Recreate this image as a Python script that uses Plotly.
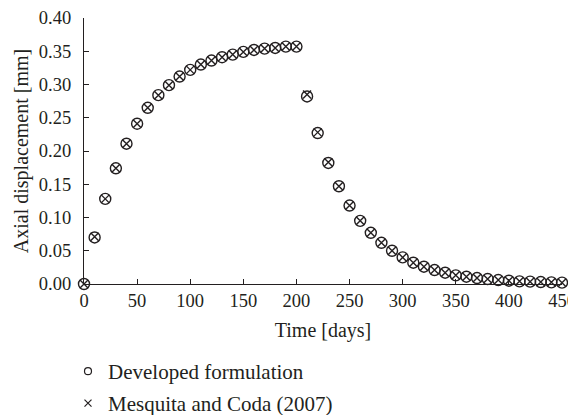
import plotly.graph_objects as go

time_days = [0, 10, 20, 30, 40, 50, 60, 70, 80, 90, 100, 110, 120, 130, 140, 150,
             160, 170, 180, 190, 200, 210, 220, 230, 240, 250, 260, 270, 280, 290,
             300, 310, 320, 330, 340, 350, 360, 370, 380, 390, 400, 410, 420, 430,
             440, 450]

developed = [0.000, 0.070, 0.128, 0.174, 0.211, 0.241, 0.265, 0.284, 0.299, 0.312,
             0.322, 0.330, 0.336, 0.341, 0.345, 0.349, 0.352, 0.354, 0.355, 0.357,
             0.357, 0.282, 0.227, 0.182, 0.147, 0.118, 0.095, 0.077, 0.062, 0.050,
             0.040, 0.032, 0.026, 0.021, 0.017, 0.013, 0.011, 0.009, 0.0075, 0.006,
             0.005, 0.004, 0.0035, 0.003, 0.0025, 0.002]

mesquita = [0.000, 0.071, 0.128, 0.174, 0.211, 0.241, 0.265, 0.284, 0.299, 0.312,
            0.322, 0.330, 0.336, 0.341, 0.345, 0.349, 0.352, 0.354, 0.355, 0.357,
            0.357, 0.285, 0.228, 0.183, 0.147, 0.118, 0.095, 0.077, 0.062, 0.050,
            0.040, 0.032, 0.026, 0.021, 0.017, 0.013, 0.011, 0.009, 0.0075, 0.006,
            0.005, 0.004, 0.0035, 0.003, 0.0025, 0.002]

x_ticks = [0, 50, 100, 150, 200, 250, 300, 350, 400, 450]
y_ticks = [0.00, 0.05, 0.10, 0.15, 0.20, 0.25, 0.30, 0.35, 0.40]

INK = "#231f20"
FONT = "Liberation Serif"

fig = go.Figure()

fig.add_trace(go.Scatter(
    x=time_days, y=developed, mode="markers", name="Developed formulation",
    showlegend=False, cliponaxis=False,
    marker=dict(symbol="circle-open", size=11, color=INK, line=dict(width=1.4, color=INK)),
))
fig.add_trace(go.Scatter(
    x=time_days, y=mesquita, mode="markers", name="Mesquita and Coda (2007)",
    showlegend=False, cliponaxis=False,
    marker=dict(symbol="x-thin-open", size=8, color=INK, line=dict(width=1.4, color=INK)),
))

# legend entries (smaller symbols as in the reference)
fig.add_trace(go.Scatter(
    x=[None], y=[None], mode="markers", name="Developed formulation", legend="legend",
    marker=dict(symbol="circle-open", size=7, color=INK, line=dict(width=1.2, color=INK)),
))
fig.add_trace(go.Scatter(
    x=[None], y=[None], mode="markers", name="Mesquita and Coda (2007)", legend="legend2",
    marker=dict(symbol="x-thin-open", size=7, color=INK, line=dict(width=1.2, color=INK)),
))

axis_common = dict(
    showline=True, linecolor=INK, linewidth=1.2, showgrid=False, zeroline=False,
    ticks="inside", ticklen=5, tickwidth=1, tickcolor=INK,
    tickfont=dict(family=FONT, size=18.5, color=INK),
    mirror=False, automargin=False,
)

fig.update_layout(
    width=576, height=415,
    margin=dict(l=76, r=22, t=10, b=139, autoexpand=False),
    paper_bgcolor="white", plot_bgcolor="white",
    font=dict(family=FONT, size=20, color=INK),
    xaxis=dict(range=[0, 450.001], tickvals=x_ticks, ticktext=[str(v) for v in x_ticks],
               title=dict(text="Time [days]", font=dict(family=FONT, size=20, color=INK), standoff=12),
               **axis_common),
    yaxis=dict(range=[0, 0.40001], tickvals=y_ticks, ticktext=[f"{v:.2f}" for v in y_ticks],
               title=dict(text="Axial displacement [mm]", font=dict(family=FONT, size=20, color=INK), standoff=4),
               ticklabelstandoff=8,
               **axis_common),
    legend=dict(x=-16 / 478, y=1 - 343 / 415, xref="paper", yref="container", xanchor="left", yanchor="top",
                bgcolor="rgba(0,0,0,0)", font=dict(family=FONT, size=21, color=INK)),
    legend2=dict(x=-16 / 478, y=1 - 375 / 415, xref="paper", yref="container", xanchor="left", yanchor="top",
                 bgcolor="rgba(0,0,0,0)", font=dict(family=FONT, size=21, color=INK)),
)

fig.write_html("out.html")
